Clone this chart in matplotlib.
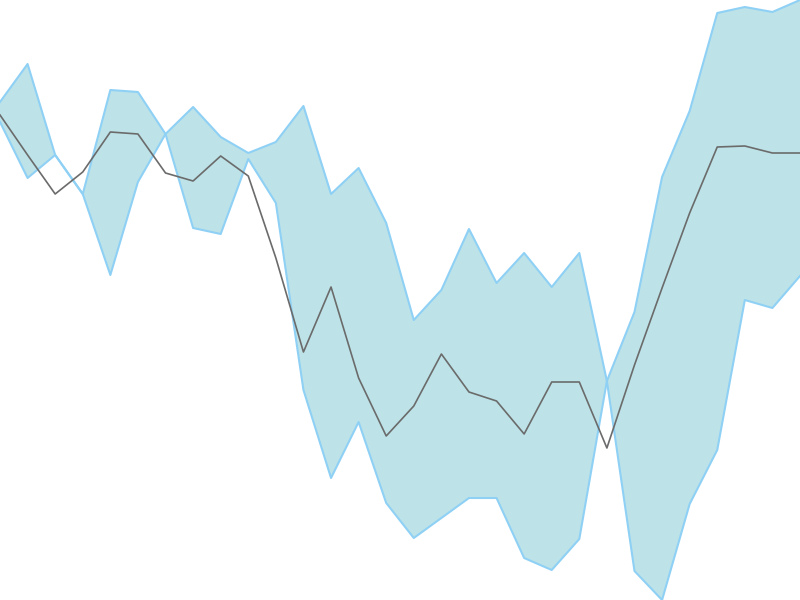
import numpy as np
import matplotlib
matplotlib.use("Agg")
import matplotlib.pyplot as plt

# band edges and middle line (screen y, 0 = top)
edge_a = [102, 64, 155, 194, 275, 182, 134, 107, 137, 153, 142, 106, 194, 168, 223,
          320, 290, 229, 283, 253, 287, 253, 381, 571, 600, 504, 450, 300, 308, 276]
edge_b = [122, 178, 155, 194, 90, 92, 134, 228, 234, 159, 203, 390, 478, 422, 503,
          538, 518, 498, 498, 558, 570, 539, 381, 312, 177, 111, 13, 7, 12, 0]
middle = [115, 155, 194, 172, 132, 134, 173, 181, 156, 176, 258, 352, 287, 378, 436,
          406, 354, 392, 401, 434, 382, 382, 448, 365, 288, 213, 147, 146, 153, 153]

x = np.arange(len(middle))
# turn screen y into values (higher = up)
a = 600 - np.array(edge_a)
b = 600 - np.array(edge_b)
m = 600 - np.array(middle)

fig = plt.figure(figsize=(8, 6), dpi=100)
ax = fig.add_axes([0, 0, 1, 1])
ax.fill_between(x, a, b, color="#bde3e8", linewidth=0)
ax.plot(x, a, color="#8fd0f5", lw=1.5)
ax.plot(x, b, color="#8fd0f5", lw=1.5)
ax.plot(x, m, color="#6b6b6b", lw=1.2)
ax.set_xlim(0, len(x) - 1)
ax.set_ylim(0, 600)
ax.axis("off")

fig.savefig("out.png", dpi=100)
